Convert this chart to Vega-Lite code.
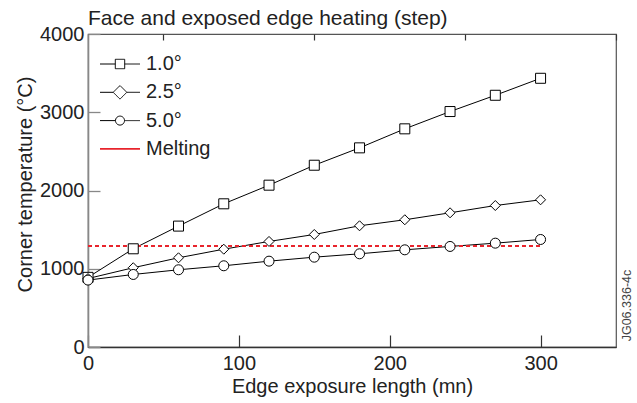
{
  "$schema": "https://vega.github.io/schema/vega-lite/v6.json",
  "width": 528,
  "height": 313,
  "autosize": {"type": "none"},
  "padding": {"left": 88, "top": 34, "right": 21, "bottom": 56},
  "background": "white",
  "title": {
    "text": "Face and exposed edge heating (step)",
    "anchor": "start",
    "frame": "group",
    "font": "Liberation Sans",
    "fontSize": 21,
    "fontWeight": "normal",
    "color": "#222",
    "offset": -5
  },
  "config": {
    "view": {"stroke": "#555", "strokeWidth": 1.2},
    "font": "Liberation Sans",
    "axis": {
      "labelFont": "Liberation Sans",
      "titleFont": "Liberation Sans",
      "labelFontSize": 20,
      "titleFontSize": 20,
      "titleFontWeight": "normal",
      "labelColor": "#222",
      "titleColor": "#222",
      "grid": false
    }
  },
  "datasets": {
    "temps": [
      {"series": "1.0°", "x": 0, "y": 890},
      {"series": "1.0°", "x": 30, "y": 1255},
      {"series": "1.0°", "x": 60, "y": 1545},
      {"series": "1.0°", "x": 90, "y": 1830},
      {"series": "1.0°", "x": 120, "y": 2068},
      {"series": "1.0°", "x": 150, "y": 2323},
      {"series": "1.0°", "x": 180, "y": 2545},
      {"series": "1.0°", "x": 210, "y": 2788},
      {"series": "1.0°", "x": 240, "y": 3009},
      {"series": "1.0°", "x": 270, "y": 3217},
      {"series": "1.0°", "x": 300, "y": 3434},
      {"series": "2.5°", "x": 0, "y": 875},
      {"series": "2.5°", "x": 30, "y": 1013},
      {"series": "2.5°", "x": 60, "y": 1140},
      {"series": "2.5°", "x": 90, "y": 1250},
      {"series": "2.5°", "x": 120, "y": 1349},
      {"series": "2.5°", "x": 150, "y": 1438},
      {"series": "2.5°", "x": 180, "y": 1549},
      {"series": "2.5°", "x": 210, "y": 1626},
      {"series": "2.5°", "x": 240, "y": 1715},
      {"series": "2.5°", "x": 270, "y": 1808},
      {"series": "2.5°", "x": 300, "y": 1881},
      {"series": "5.0°", "x": 0, "y": 855},
      {"series": "5.0°", "x": 30, "y": 927},
      {"series": "5.0°", "x": 60, "y": 987},
      {"series": "5.0°", "x": 90, "y": 1038},
      {"series": "5.0°", "x": 120, "y": 1097},
      {"series": "5.0°", "x": 150, "y": 1148},
      {"series": "5.0°", "x": 180, "y": 1191},
      {"series": "5.0°", "x": 210, "y": 1242},
      {"series": "5.0°", "x": 240, "y": 1285},
      {"series": "5.0°", "x": 270, "y": 1327},
      {"series": "5.0°", "x": 300, "y": 1374},
      {"series": "Melting", "x": 0, "y": 1290},
      {"series": "Melting", "x": 300, "y": 1290}
    ],
    "note": [
      {"x": 357, "y": 530, "label": "JG06.336-4c"}
    ]
  },
  "resolve": {"axis": {"x": "independent"}},
  "layer": [
    {
      "data": {"name": "temps"},
      "transform": [{"filter": "datum.series !== 'Melting'"}],
      "mark": {"type": "line", "strokeWidth": 1},
      "encoding": {
        "x": {
          "field": "x",
          "type": "quantitative",
          "scale": {"domain": [0, 350], "nice": false},
          "axis": {
            "title": "Edge exposure length (mn)",
            "values": [0, 100, 200, 300],
            "labelFlush": false,
            "tickSize": -12,
            "tickWidth": 1.2,
            "tickColor": "#333",
            "domainColor": "#333",
            "domainWidth": 1.3,
            "labelPadding": 18,
            "titlePadding": 3
          }
        },
        "y": {
          "field": "y",
          "type": "quantitative",
          "scale": {"domain": [0, 4000], "nice": false},
          "axis": {
            "title": "Corner temperature (°C)",
            "values": [0, 1000, 2000, 3000, 4000],
            "format": "d",
            "labelFlush": false,
            "tickSize": -12,
            "tickWidth": 1.3,
            "tickColor": "#888",
            "domainColor": "#888",
            "domainWidth": 1.6,
            "labelPadding": 16,
            "titlePadding": 4,
            "titleY": 150
          }
        },
        "color": {
          "field": "series",
          "type": "nominal",
          "scale": {"domain": ["1.0°", "2.5°", "5.0°", "Melting"], "range": ["#000000", "#000000", "#000000", "#e8242c"]},
          "legend": {
            "title": null,
            "orient": "none",
            "legendX": 22,
            "legendY": 20,
            "labelFont": "Liberation Sans",
            "labelFontSize": 20,
            "labelColor": "#222",
            "symbolSize": 400,
            "symbolStrokeWidth": 1,
            "labelOffset": 16,
            "rowPadding": 8.3,
            "encode": {
              "symbols": {
                "update": {
                  "fill": {"value": "white"},
                  "strokeDash": {"value": [1, 0]},
                  "strokeWidth": {"signal": "datum.value === 'Melting' ? 1.8 : 1"},
                  "shape": {"signal": "datum.value === '1.0°' ? 'M-2,0H-0.47M0.47,0H2M-0.47,-0.47H0.47V0.47H-0.47Z' : datum.value === '2.5°' ? 'M-2,0H-0.68M0.68,0H2M-0.68,0L0,-0.68L0.68,0L0,0.68Z' : datum.value === '5.0°' ? 'M-2,0H-0.45M0.45,0H2M-0.45,0A0.45,0.45,0,1,0,0.45,0A0.45,0.45,0,1,0,-0.45,0Z' : 'M-2,0H2'"}
                }
              }
            }
          }
        }
      }
    },
    {
      "data": {"name": "temps"},
      "transform": [{"filter": "datum.series === 'Melting'"}],
      "mark": {"type": "line", "strokeWidth": 2, "strokeDash": [4, 3]},
      "encoding": {
        "x": {
          "field": "x",
          "type": "quantitative",
          "axis": {
            "title": null,
            "values": [50, 150, 250, 350],
            "labels": false,
            "domain": false,
            "tickSize": -6,
            "tickWidth": 1.2,
            "tickColor": "#333"
          }
        },
        "y": {"field": "y", "type": "quantitative"},
        "color": {"field": "series", "type": "nominal"}
      }
    },
    {
      "data": {"name": "temps"},
      "transform": [{"filter": "datum.series !== 'Melting'"}],
      "mark": {"type": "point", "filled": false, "fill": "white", "stroke": "black", "strokeWidth": 1, "size": 100, "opacity": 1},
      "encoding": {
        "x": {"field": "x", "type": "quantitative", "axis": null},
        "y": {"field": "y", "type": "quantitative"},
        "shape": {
          "field": "series",
          "type": "nominal",
          "scale": {"domain": ["1.0°", "2.5°", "5.0°"], "range": ["square", "diamond", "circle"]},
          "legend": null
        }
      }
    },
    {
      "data": {"name": "note"},
      "mark": {"type": "text", "angle": 270, "fontSize": 12.5, "font": "Liberation Sans", "color": "#444", "align": "center", "baseline": "middle"},
      "encoding": {
        "x": {"field": "x", "type": "quantitative", "axis": null},
        "y": {"field": "y", "type": "quantitative"},
        "text": {"field": "label"}
      }
    }
  ]
}
